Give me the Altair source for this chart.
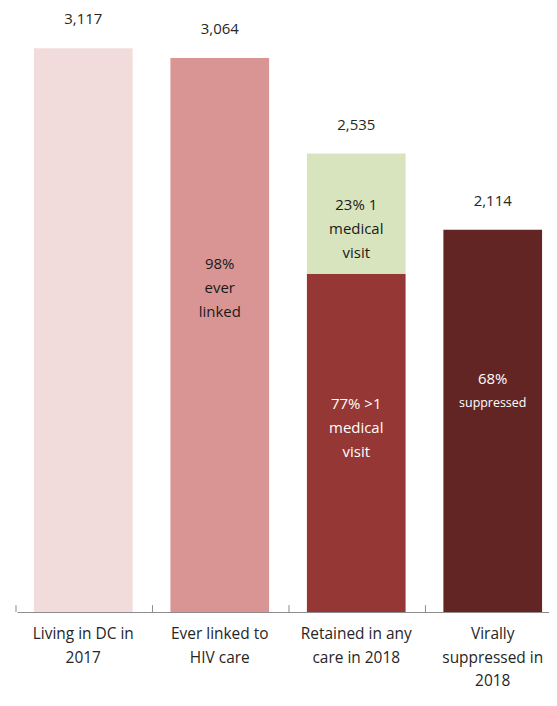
import altair as alt
import pandas as pd

# ---- data ----
categories = ["Living in DC in 2017", "Ever linked to HIV care",
              "Retained in any care in 2018", "Virally suppressed in 2018"]
label_lines = [["Living in DC in", "2017"], ["Ever linked to", "HIV care"],
               ["Retained in any", "care in 2018"], ["Virally", "suppressed in", "2018"]]
totals = [3117, 3064, 2535, 2114]
total_labels = ["3,117", "3,064", "2,535", "2,114"]
retained_multi = 1870   # >1 medical visit (lower part of bar 3)
retained_single = 665   # 1 medical visit (upper part of bar 3)

segments = ["Living", "Linked", "Retained >1", "Retained 1", "Suppressed"]
seg_colors = ["#F2DCDB", "#D99594", "#953735", "#D7E4BD", "#632523"]

# ---- tables ----
bars = pd.DataFrame({
    "category": [categories[0], categories[1], categories[2], categories[2], categories[3]],
    "segment": segments,
    "start": [0, 0, 0, retained_multi, 0],
    "end": [totals[0], totals[1], retained_multi, retained_multi + retained_single, totals[3]],
})

tops = pd.DataFrame({"category": categories, "total": totals, "label": total_labels})

# annotation anchors (data units, first text line)
notes = pd.DataFrame({
    "category": [categories[1], categories[2], categories[2], categories[3]],
    "text": ["98%|ever|linked", "23% 1|medical|visit", "77% >1|medical|visit", "68%"],
    "y": [1925, 2252, 1150, 1287],
    "tcolor": ["#1a1a1a", "#1a1a1a", "#ffffff", "#ffffff"],
})
notes_small = pd.DataFrame({"category": [categories[3]], "text": ["suppressed"], "y": [1155]})

ticks = pd.DataFrame({"category": categories})

FONT = "Open Sans"
ydom = [0, 3333]
P_INNER = 0.277

label_map = "{" + ",".join(
    "'" + c + "':[" + ",".join("'" + l + "'" for l in ls) + "]"
    for c, ls in zip(categories, label_lines)) + "}"

xscale = alt.Scale(paddingInner=P_INNER, paddingOuter=0.0875, align=0.71)
xenc = alt.X("category:N", sort=categories, title=None, scale=xscale,
             axis=alt.Axis(labelExpr=label_map + "[datum.value]", labelAngle=0,
                           ticks=False, tickSize=0, domainColor="#8c8c8c", domainWidth=1,
                           labelFont=FONT, labelFontSize=15.5, labelColor="#262626",
                           labelPadding=15, labelLineHeight=23.5, labelLimit=0,
                           labelOverlap=False, grid=False))
yscale = alt.Scale(domain=ydom, nice=False, zero=True)

bar_layer = alt.Chart(bars).mark_bar().encode(
    x=xenc,
    y=alt.Y("start:Q", scale=yscale, axis=None),
    y2="end:Q",
    color=alt.Color("segment:N", scale=alt.Scale(domain=segments, range=seg_colors), legend=None),
)

top_layer = alt.Chart(tops).mark_text(font=FONT, fontSize=15, color="#262626",
                                      baseline="middle", dy=-29).encode(
    x=alt.X("category:N", sort=categories),
    y=alt.Y("total:Q", scale=yscale, axis=None),
    text="label:N",
)

note_layer = alt.Chart(notes).mark_text(font=FONT, fontSize=15, lineBreak="|",
                                        lineHeight=24, baseline="middle").encode(
    x=alt.X("category:N", sort=categories),
    y=alt.Y("y:Q", scale=yscale, axis=None),
    text="text:N",
    color=alt.Color("tcolor:N", scale=None),
)

small_layer = alt.Chart(notes_small).mark_text(font=FONT, fontSize=12.5, color="#ffffff",
                                               baseline="middle").encode(
    x=alt.X("category:N", sort=categories),
    y=alt.Y("y:Q", scale=yscale, axis=None),
    text="text:N",
)

tick_layer = alt.Chart(ticks).mark_rule(color="#8c8c8c", strokeWidth=1,
                                        xOffset=-18).encode(
    x=alt.X("category:N", sort=categories, bandPosition=0),
    y=alt.datum(0, scale=yscale, axis=None),
    y2=alt.datum(38),
)

chart = alt.layer(bar_layer, tick_layer, top_layer, note_layer, small_layer).properties(
    width=534, height=605, background="#ffffff",
    padding={"left": 7, "top": 0, "right": 0, "bottom": 0},
).configure_view(stroke=None)

chart.save("out.html", embed_options={"renderer": "svg", "actions": False})
